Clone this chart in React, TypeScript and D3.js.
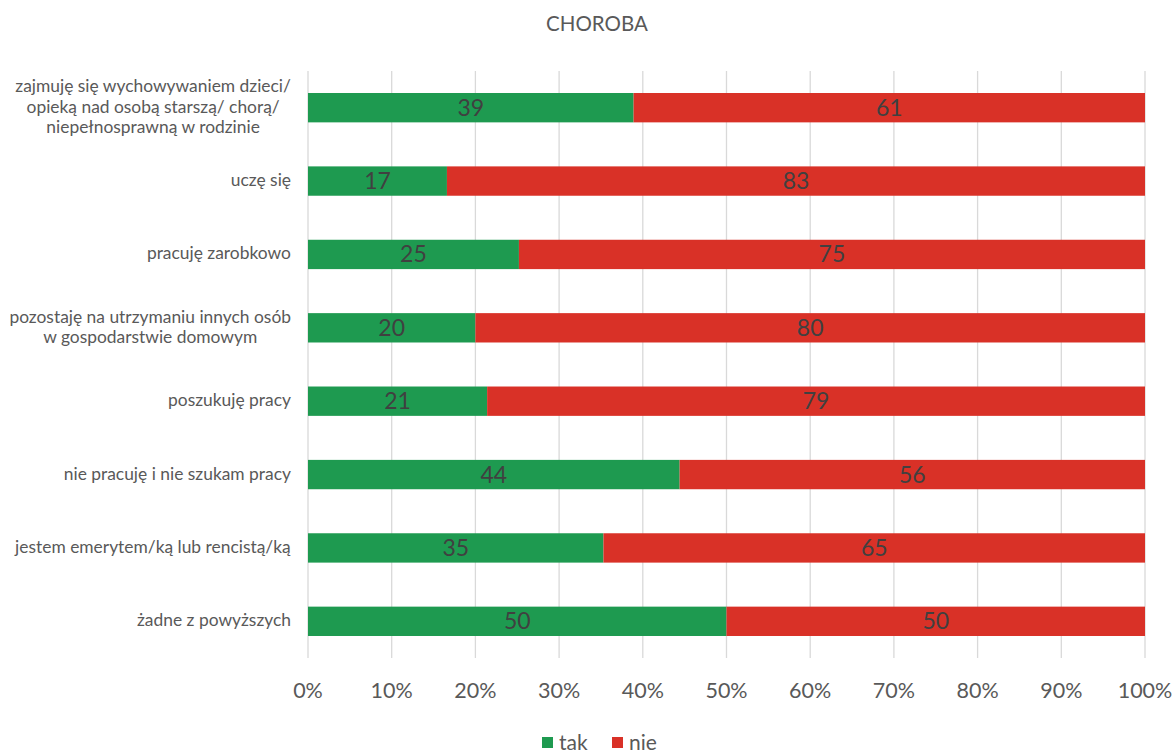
import React from "react";
import * as d3 from "d3";

const categories: string[][] = [
  ["zajmuję się wychowywaniem dzieci/", "opieką nad osobą starszą/ chorą/", "niepełnosprawną w rodzinie"],
  ["uczę się"],
  ["pracuję zarobkowo"],
  ["pozostaję na utrzymaniu innych osób", "w gospodarstwie domowym"],
  ["poszukuję pracy"],
  ["nie pracuję i nie szukam pracy"],
  ["jestem emerytem/ką lub rencistą/ką"],
  ["żadne z powyższych"],
];
const takValues = [38.9, 16.6, 25.2, 20.0, 21.4, 44.4, 35.3, 50.0];
const nieValues = [61.1, 83.4, 74.8, 80.0, 78.6, 55.6, 64.7, 50.0];
const seriesNames = ["tak", "nie"];
const seriesColors = ["#1e9a50", "#d93127"];
const ticks = [0, 0.1, 0.2, 0.3, 0.4, 0.5, 0.6, 0.7, 0.8, 0.9, 1];
const title = "CHOROBA";

const W = 1175;
const H = 754;
const FONT = "Lato, 'Open Sans', sans-serif";

export default function App() {
  const x = d3.scaleLinear().domain([0, 1]).range([308, 1145]);
  const idx = categories.map((_, i) => String(i));
  const y = d3.scaleBand().domain(idx).range([71, 658]).paddingInner(0.6).paddingOuter(0.3);
  const rows = categories.map((c, i) => {
    const total = takValues[i] + nieValues[i];
    return { c, i, parts: [takValues[i] / total, nieValues[i] / total], vals: [takValues[i], nieValues[i]] };
  });
  const fmt = d3.format(".0%");
  const fmtV = d3.format(".0f");
  return (
    <svg width={W} height={H} style={{ position: "absolute", left: 0, top: 0, background: "#fff" }} fontFamily={FONT}>
      <text x={597} y={31} textAnchor="middle" fontSize={20.5} fill="#595959">{title}</text>
      {ticks.map((t) => (
        <line key={t} x1={x(t)} x2={x(t)} y1={71} y2={658} stroke="#d9d9d9" strokeWidth={1.3} />
      ))}
      {ticks.map((t) => (
        <text key={"t" + t} x={x(t)} y={698} textAnchor="middle" fontSize={21.5} fill="#595959">{fmt(t)}</text>
      ))}
      {rows.map((r) => {
        const yy = y(String(r.i))!;
        const bh = y.bandwidth();
        let acc = 0;
        const cy = yy + bh / 2;
        const n = r.c.length;
        return (
          <g key={r.i}>
            {r.parts.map((p, k) => {
              const x0 = x(acc);
              const x1 = x(acc + p);
              acc += p;
              return (
                <g key={k}>
                  <rect x={x0} y={yy} width={x1 - x0} height={bh} fill={seriesColors[k]} />
                  <text x={(x0 + x1) / 2} y={cy + 8} textAnchor="middle" fontSize={23} fill="#404040">{fmtV(r.vals[k])}</text>
                </g>
              );
            })}
            <text textAnchor="middle" fontSize={17.4} fill="#595959" ref={(el) => {
              if (!el) return;
              const bb = el.getBBox();
              const shift = 291 - (bb.x + bb.width);
              el.setAttribute("transform", `translate(${shift},0)`);
            }}>
              {r.c.map((line, j) => (
                <tspan key={j} x={150} y={cy + 5 + (j - (n - 1) / 2) * 20.5}>{line}</tspan>
              ))}
            </text>
          </g>
        );
      })}
      {seriesNames.map((s, k) => {
        const lx = [542, 612][k];
        return (
          <g key={s}>
            <rect x={lx} y={737} width={11} height={11} fill={seriesColors[k]} />
            <text x={lx + 17} y={750} fontSize={21} fill="#595959">{s}</text>
          </g>
        );
      })}
    </svg>
  );
}
